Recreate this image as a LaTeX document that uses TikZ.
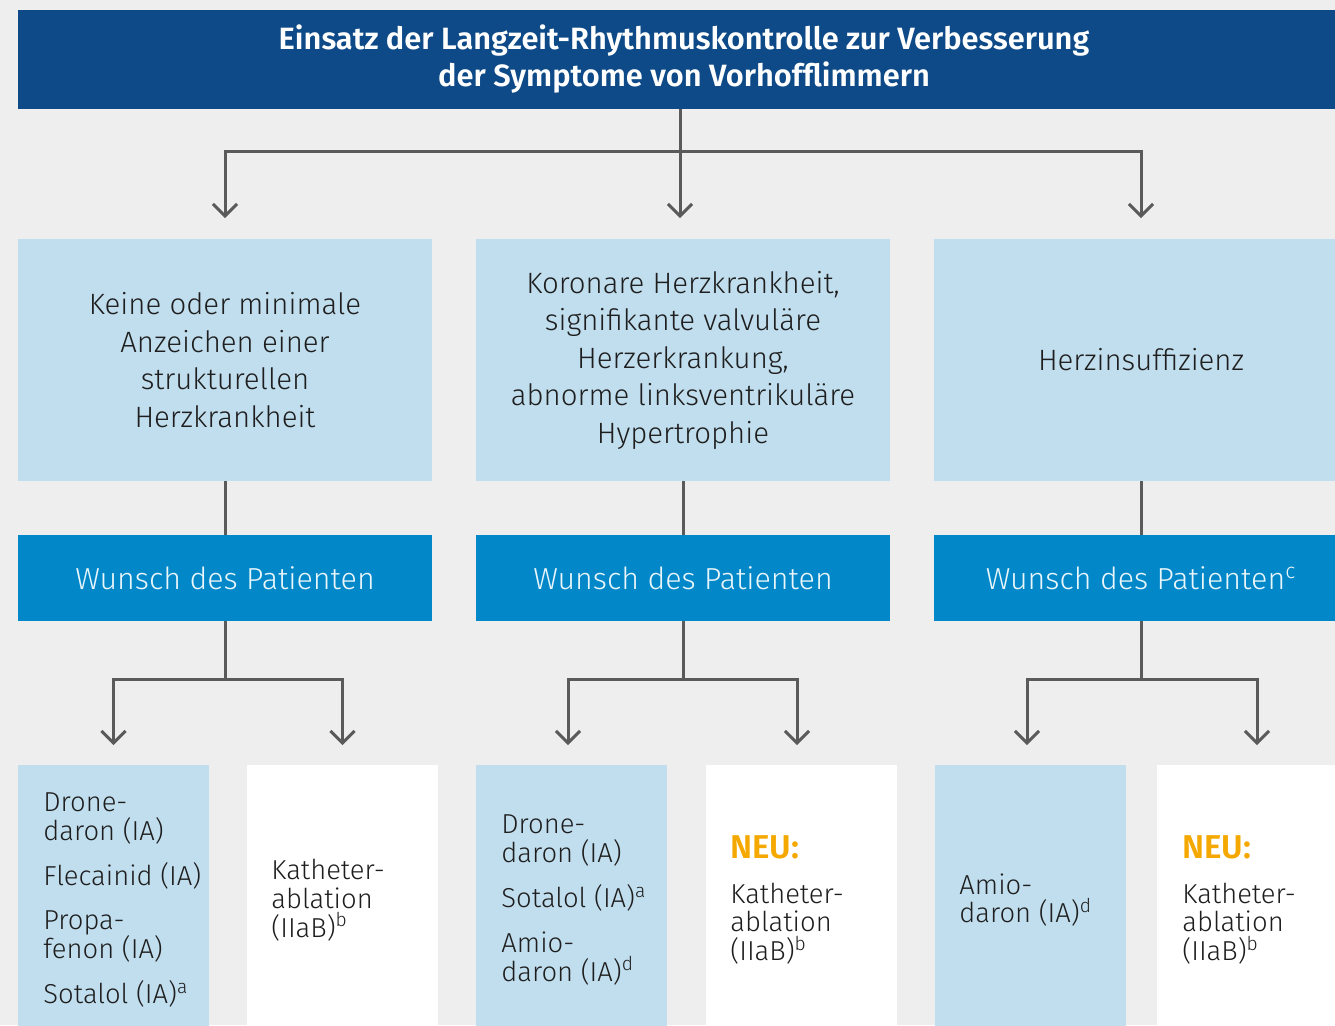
\documentclass[tikz,border=0pt]{standalone}
\usepackage{fontspec}
\setmainfont{Fira Sans}[UprightFont=* Light, BoldFont=* SemiBold]
\usetikzlibrary{arrows.meta}
\definecolor{bgc}{HTML}{EEEEEE}
\definecolor{hdrblue}{HTML}{0E4A87}
\definecolor{midblue}{HTML}{0288C9}
\definecolor{lightblue}{HTML}{C1DEEE}
\definecolor{linegray}{HTML}{5A5A5A}
\definecolor{neu}{HTML}{F5A800}
\definecolor{txt}{HTML}{1E1E1E}
\newcommand{\neutag}{{\fontsize{16.5}{16.5}\selectfont\bfseries\color{neu}NEU:}}
\begin{document}
\begin{tikzpicture}[x=0.5pt,y=-0.5pt,
  conn/.style={draw=linegray, line width=1.5pt},
  arr/.style={-{Straight Barb[length=6pt,width=12pt]}, shorten >=10.5pt},
  barr/.style={-{Straight Barb[length=6pt,width=12pt]}, shorten >=10pt},
  box/.style={inner sep=0pt, outer sep=0pt, draw=none},
  hdrbox/.style={box, fill=hdrblue, minimum width=666pt, minimum height=49.5pt,
    text=white, align=center, font=\fontsize{15.4}{18.5}\selectfont\bfseries},
  lbox/.style={box, fill=lightblue, minimum width=207pt, minimum height=121pt,
    text=txt, align=center, font=\fontsize{14.7}{18.75}\selectfont},
  mbox/.style={box, fill=midblue, minimum width=207pt, minimum height=43pt,
    text=white!92!midblue, align=center, font=\fontsize{15.2}{18}\selectfont},
  bbox/.style={box, minimum width=95.5pt, minimum height=135pt},
  btxt/.style={inner sep=0pt, anchor=west, align=left, text=txt,
    font=\fontsize{13.7}{14.4}\selectfont}
]
\fill[bgc] (0,0) rectangle (1335,1025);
\clip (0,0) rectangle (1335,1025);

% header
\node[hdrbox] (hdr) at (684,59.5) {Einsatz der Langzeit-Rhythmuskontrolle zur Verbesserung\\der Symptome von Vorhofflimmern};

% second row
\node[lbox] (b1) at (225,360) {Keine oder minimale\\Anzeichen einer\\strukturellen\\Herzkrankheit};
\node[lbox] (b2) at (683,360) {Koronare Herzkrankheit,\\signifikante valvuläre\\Herzerkrankung,\\abnorme linksventrikuläre\\Hypertrophie};
\node[lbox] (b3) at (1141,360) {Herzinsuffizienz};

% patient wish
\node[mbox] (m1) at (225,578) {Wunsch des Patienten};
\node[mbox] (m2) at (683,578) {Wunsch des Patienten};
\node[mbox] (m3) at (1141,578) {Wunsch des Patienten\textsuperscript{c}};

% bottom boxes
\node[bbox, fill=lightblue] (bA) at (113.5,900) {};
\node[bbox, fill=white] (bB) at (342.5,900) {};
\node[bbox, fill=lightblue] (bC) at (571.5,900) {};
\node[bbox, fill=white] (bD) at (801.5,900) {};
\node[bbox, fill=lightblue] (bE) at (1030.5,900) {};
\node[bbox, fill=white] (bF) at (1252.5,900) {};

\node[btxt] (tA) at ([xshift=12.5pt]bA.west) {Drone-\\daron (IA)\\[8pt]Flecainid (IA)\\[8pt]Propa-\\fenon (IA)\\[8pt]Sotalol (IA)\textsuperscript{a}};
\node[btxt] (tB) at ([xshift=12pt]bB.west) {Katheter-\\ablation\\(IIaB)\textsuperscript{b}};
\node[btxt] (tC) at ([xshift=12.5pt]bC.west) {Drone-\\daron (IA)\\[8pt]Sotalol (IA)\textsuperscript{a}\\[8pt]Amio-\\daron (IA)\textsuperscript{d}};
\node[btxt] (tD) at ([xshift=12pt]bD.west) {\neutag\\[8pt]Katheter-\\ablation\\(IIaB)\textsuperscript{b}};
\node[btxt] (tE) at ([xshift=12pt]bE.west) {Amio-\\daron (IA)\textsuperscript{d}};
\node[btxt] (tF) at ([xshift=12.5pt]bF.west) {\neutag\\[8pt]Katheter-\\ablation\\(IIaB)\textsuperscript{b}};

% connectors top
\coordinate (j0) at (680,151);
\draw[conn] (hdr.south -| j0) -- (j0);
\draw[conn,arr] (j0) -| (b1.north);
\draw[conn,arr] (j0) -- (j0 |- b2.north);
\draw[conn,arr] (j0) -| (b3.north);

% connectors middle
\draw[conn] (b1.south) -- (m1.north);
\draw[conn] (b2.south) -- (m2.north);
\draw[conn] (b3.south) -- (m3.north);

% connectors bottom
\coordinate (k1) at (225,679);
\coordinate (k2) at (683,679);
\coordinate (k3) at (1141,679);
\draw[conn] (m1.south) -- (k1);
\draw[conn] (m2.south) -- (k2);
\draw[conn] (m3.south) -- (k3);
\draw[conn,barr] (k1) -| (bA.north);
\draw[conn,barr] (k1) -| (bB.north);
\draw[conn,barr] (k2) -| ([xshift=-1.75pt]bC.north);
\draw[conn,barr] (k2) -| ([xshift=-2.25pt]bD.north);
\draw[conn,barr] (k3) -| ([xshift=-1.75pt]bE.north);
\draw[conn,barr] (k3) -| ([xshift=2.25pt]bF.north);
\end{tikzpicture}
\end{document}
